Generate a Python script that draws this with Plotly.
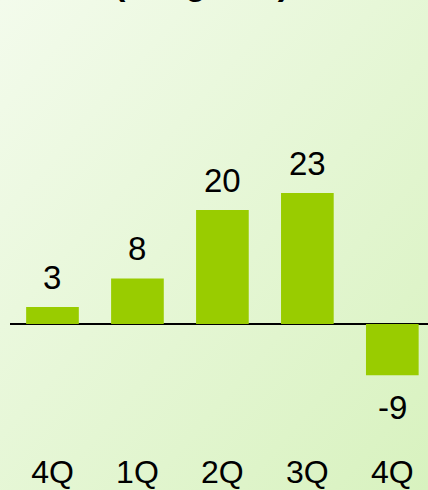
import base64
import plotly.graph_objects as go

# Data
categories = ["4Q ", "1Q", "2Q", "3Q", "4Q"]
tick_labels = ["4Q", "1Q", "2Q", "3Q", "4Q"]
values = [3, 8, 20, 23, -9]
title_text = "(Weighted)"

W, H = 428, 490
L, R, T, B = 10, 0, 100, 40
PW, PH = W - L - R, H - T - B

FONT = "Liberation Sans, Arial, sans-serif"
BAR = "#99cc00"

svg = (
    f'<svg xmlns="http://www.w3.org/2000/svg" width="{W}" height="{H}" viewBox="0 0 {W} {H}" preserveAspectRatio="none">'
    '<defs><linearGradient id="g" x1="0" y1="0" x2="1" y2="1">'
    '<stop offset="0" stop-color="#f3fbec"/><stop offset="1" stop-color="#d8f2bf"/>'
    '</linearGradient></defs>'
    f'<rect width="{W}" height="{H}" fill="url(#g)"/></svg>'
)
bg_uri = "data:image/svg+xml;base64," + base64.b64encode(svg.encode()).decode()

fig = go.Figure(
    go.Bar(
        x=categories,
        y=values,
        marker=dict(color=BAR, line=dict(width=0)),
        width=0.62,
        hoverinfo="skip",
    )
)

annotations = []
for c, v in zip(categories, values):
    annotations.append(dict(
        x=c, y=v, xref="x", yref="y",
        text=str(v), showarrow=False,
        yanchor="bottom" if v >= 0 else "top",
        yshift=9 if v >= 0 else -12,
        font=dict(family=FONT, size=33, color="#000000"),
    ))

annotations.append(dict(
    x=(W / 2 - 13 - L) / PW, y=(H - B - 4) / PH, xref="paper", yref="paper",
    text=f"<b>{title_text}</b>", showarrow=False,
    xanchor="center", yanchor="bottom",
    font=dict(family=FONT, size=34, color="#000000"),
))

fig.update_layout(
    width=W, height=H,
    margin=dict(l=L, r=R, t=T, b=B, pad=0),
    paper_bgcolor="#e7f6da",
    plot_bgcolor="rgba(0,0,0,0)",
    showlegend=False,
    annotations=annotations,
    images=[dict(
        source=bg_uri, xref="paper", yref="paper",
        x=-L / PW, y=(H - B) / PH, sizex=W / PW, sizey=H / PH,
        xanchor="left", yanchor="top", sizing="stretch", layer="below",
    )],
    xaxis=dict(
        range=[-0.5, 4.42], showgrid=False, showline=False, zeroline=False,
        ticks="", tickmode="array", tickvals=categories, ticktext=tick_labels,
        tickfont=dict(family=FONT, size=32, color="#000000"),
        automargin=False, fixedrange=True,
    ),
    yaxis=dict(
        range=[-22.1, 39.3], showgrid=False, showticklabels=False,
        zeroline=True, zerolinecolor="#000000", zerolinewidth=2,
        ticks="", automargin=False, fixedrange=True,
    ),
)

fig.write_html(
    "out.html",
    config={"displayModeBar": False, "staticPlot": True},
    post_script="document.body.style.margin='0';document.body.style.overflow='hidden';",
)
